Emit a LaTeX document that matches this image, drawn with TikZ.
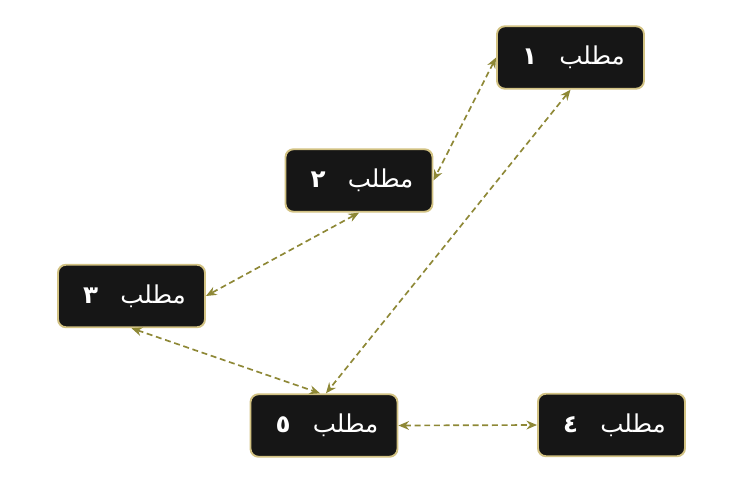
\documentclass[tikz,border=0pt]{standalone}
\usepackage{fontspec}
\usetikzlibrary{arrows.meta}
\TeXXeTstate=1
\newfontfamily\arabicfont[Script=Arabic]{DejaVu Sans}
\definecolor{boxfill}{HTML}{161616}
\definecolor{boxborder}{HTML}{D2C283}
\definecolor{edgecol}{HTML}{8E8836}
\tikzset{
  topic/.style={draw=boxborder, fill=boxfill, line width=1.1pt, rounded corners=4.5pt,
    minimum width=2.94cm, minimum height=1.25cm, inner sep=0pt,
    text=white, font=\arabicfont\fontsize{14}{16}\selectfont},
  link/.style={draw=edgecol, line width=0.95pt, dash pattern=on 3.4pt off 2.1pt,
    {Stealth[length=6pt,width=5pt]}-{Stealth[length=6pt,width=5pt]}}
}
\newcommand{\topiclabel}[1]{\hspace{0.12cm}\beginR مطلب\hspace{0.9em}{\bfseries #1}\endR}
\begin{document}
\begin{tikzpicture}[x=0.02cm,y=-0.02cm]
\useasboundingbox (0,0) rectangle (750,500);
\node[topic] (n1) at (570.5,57.5) {\topiclabel{١}};
\node[topic] (n2) at (359,180.5) {\topiclabel{٢}};
\node[topic] (n3) at (131.5,296) {\topiclabel{٣}};
\node[topic] (n5) at (324,425.5) {\topiclabel{٥}};
\node[topic] (n4) at (611.5,425) {\topiclabel{٤}};
\draw[link] (n1.south) -- ([xshift=0.04cm]n5.north);
\draw[link] (n1.west) -- (n2.east);
\draw[link] (n2.south) -- (n3.east);
\draw[link] (n3.south) -- ([xshift=-0.08cm]n5.north);
\draw[link] (n5.east) -- (n4.west);
\end{tikzpicture}
\end{document}
